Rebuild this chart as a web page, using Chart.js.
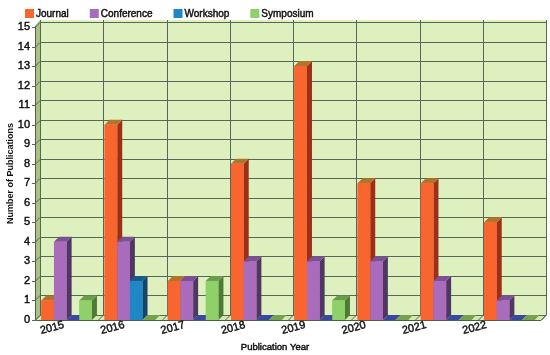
<!DOCTYPE html>
<html>
<head>
<meta charset="utf-8">
<script src="https://cdn.jsdelivr.net/npm/chart.js@4/dist/chart.umd.min.js"></script>
<style>
  html, body { margin: 0; padding: 0; background: #ffffff; }
  #wrap { width: 550px; height: 355px; }
</style>
</head>
<body>
<div id="wrap"><canvas id="c" width="550" height="355"></canvas></div>
<script>
// ---- data ----
const years = ['2015', '2016', '2017', '2018', '2019', '2020', '2021', '2022'];
const journal    = [1, 10, 2, 8, 13, 7, 7, 5];
const conference = [4, 4, 2, 3, 3, 3, 2, 1];
const workshop   = [0, 2, 0, 0, 0, 0, 0, 0];
const symposium  = [1, 0, 2, 0, 1, 0, 0, 0];
const seriesNames = ['Journal', 'Conference', 'Workshop', 'Symposium'];
const yTitle = 'Number of Publications';
const xTitle = 'Publication Year';

// ---- styles ----
const D = 5; // 3D depth
const FONT = '"Liberation Sans", Arial, sans-serif';
const TEXT = '#111111';
const STROKE = 0.45;
const faces = [
  { front: '#f8652e', top: '#b0742a', side: '#9c2f17', flat: '#b0742a' },
  { front: '#a96bbb', top: '#7d4f94', side: '#4f3763', flat: '#7d4f94' },
  { front: '#1f87c6', top: '#1b5a8c', side: '#164569', flat: '#3949a0' },
  { front: '#8fd06a', top: '#6c9c4a', side: '#4d7a34', flat: '#74a24f' }
];
const WALL = '#ddf0be';
const GRID = '#56665a';

function medText(ctx, s, x, y) {
  ctx.fillText(s, x, y);
  ctx.lineWidth = STROKE;
  ctx.strokeStyle = ctx.fillStyle;
  ctx.strokeText(s, x, y);
}

const scene3d = {
  id: 'scene3d',
  beforeDatasetsDraw(chart) {
    const { ctx, chartArea: a, scales: { x, y } } = chart;
    const n = chart.data.labels.length;
    const topB = a.top - D - 2;
    ctx.save();
    // back wall
    ctx.fillStyle = WALL;
    ctx.fillRect(a.left + D, topB, a.right - a.left, a.bottom - D - topB);
    // left wall
    ctx.fillStyle = '#a9c283';
    ctx.beginPath();
    ctx.moveTo(a.left, a.top - 1);
    ctx.lineTo(a.left + D, topB);
    ctx.lineTo(a.left + D, a.bottom - D);
    ctx.lineTo(a.left, a.bottom);
    ctx.closePath();
    ctx.fill();
    // floor
    ctx.fillStyle = '#d3e9ad';
    ctx.beginPath();
    ctx.moveTo(a.left, a.bottom);
    ctx.lineTo(a.left + D, a.bottom - D);
    ctx.lineTo(a.right + D, a.bottom - D);
    ctx.lineTo(a.right, a.bottom);
    ctx.closePath();
    ctx.fill();

    ctx.strokeStyle = GRID;
    ctx.lineWidth = 1;
    // horizontal grid
    for (let v = 0; v <= 15; v++) {
      const yy = Math.round(y.getPixelForValue(v)) + 0.5;
      ctx.beginPath();
      ctx.moveTo(a.left - 3, yy);
      ctx.lineTo(a.left, yy);
      ctx.lineTo(a.left + D, yy - D);
      ctx.lineTo(a.right + D, yy - D);
      ctx.stroke();
    }
    // vertical grid at category boundaries
    for (let i = 0; i <= n; i++) {
      const xb = Math.round(x.getPixelForValue(i - 0.5)) + 0.5;
      ctx.beginPath();
      ctx.moveTo(xb + D, topB);
      ctx.lineTo(xb + D, a.bottom - D);
      ctx.lineTo(xb, a.bottom);
      ctx.stroke();
    }
    // left wall front edge and floor front edge
    ctx.strokeStyle = '#4d6040';
    ctx.beginPath();
    ctx.moveTo(a.left + 0.5, a.top - 1);
    ctx.lineTo(a.left + 0.5, a.bottom + 0.5);
    ctx.lineTo(a.right, a.bottom + 0.5);
    ctx.lineTo(a.right + D, a.bottom - D);
    ctx.stroke();
    ctx.restore();
  },
  afterDatasetsDraw(chart) {
    const { ctx } = chart;
    const n = chart.data.labels.length;
    ctx.save();
    for (let j = 0; j < n; j++) {
      chart.data.datasets.forEach((ds, i) => {
        const meta = chart.getDatasetMeta(i);
        const el = meta.data[j];
        if (!el) return;
        const f = faces[i];
        const x1 = el.x - el.width / 2, x2 = el.x + el.width / 2;
        const top = el.y, base = el.base;
        if (Math.abs(base - top) < 0.5) {
          ctx.fillStyle = f.flat;
          ctx.beginPath();
          ctx.moveTo(x1, base);
          ctx.lineTo(x1 + D, base - D);
          ctx.lineTo(x2 + D, base - D);
          ctx.lineTo(x2, base);
          ctx.closePath();
          ctx.fill();
          return;
        }
        // side
        ctx.fillStyle = f.side;
        ctx.beginPath();
        ctx.moveTo(x2, top);
        ctx.lineTo(x2 + D, top - D);
        ctx.lineTo(x2 + D, base - D);
        ctx.lineTo(x2, base);
        ctx.closePath();
        ctx.fill();
        // top
        ctx.fillStyle = f.top;
        ctx.beginPath();
        ctx.moveTo(x1, top);
        ctx.lineTo(x1 + D, top - D);
        ctx.lineTo(x2 + D, top - D);
        ctx.lineTo(x2, top);
        ctx.closePath();
        ctx.fill();
        // front
        ctx.fillStyle = f.front;
        ctx.fillRect(x1, top, x2 - x1, base - top);
      });
    }
    ctx.restore();
  },
  afterDraw(chart) {
    const { ctx, chartArea: a, scales: { x } } = chart;
    ctx.save();
    // x tick labels, rotated
    ctx.fillStyle = TEXT;
    ctx.font = '11px ' + FONT;
    ctx.textAlign = 'center';
    ctx.textBaseline = 'middle';
    chart.data.labels.forEach((lab, i) => {
      const px = x.getPixelForTick(i);
      const lx = a.left + (px - a.left) * 0.954 - 13;
      ctx.save();
      ctx.translate(lx, a.bottom + 8);
      ctx.rotate(-15 * Math.PI / 180);
      medText(ctx, lab, 0, 0);
      ctx.restore();
    });
    // x title
    ctx.font = '9.5px ' + FONT;
    medText(ctx, xTitle, chart.width / 2, 347);
    // legend
    ctx.font = '10px ' + FONT;
    ctx.textAlign = 'left';
    let cx = 25;
    chart.data.datasets.forEach((ds, i) => {
      ctx.fillStyle = faces[i].front;
      ctx.fillRect(cx, 9, 9, 9);
      ctx.fillStyle = TEXT;
      medText(ctx, ds.label, cx + 11, 14);
      cx += 11 + ctx.measureText(ds.label).width + 21;
    });
    ctx.restore();
  }
};

const seriesValues = [journal, conference, workshop, symposium];
new Chart(document.getElementById('c'), {
  type: 'bar',
  data: {
    labels: years,
    datasets: seriesNames.map((name, i) => ({
      label: name,
      data: seriesValues[i],
      backgroundColor: faces[i].front,
      borderWidth: 0,
      categoryPercentage: 0.8,
      barPercentage: 1.0
    }))
  },
  options: {
    responsive: false,
    animation: false,
    layout: { padding: { top: 27, left: 5, right: 9, bottom: 0 } },
    plugins: {
      legend: { display: false },
      tooltip: { enabled: false },
      title: { display: false }
    },
    scales: {
      x: {
        grid: { display: false },
        border: { display: false },
        ticks: { display: false },
        afterFit(s) { s.height = 35; }
      },
      y: {
        min: 0, max: 15,
        grid: { display: false, drawTicks: false, tickLength: 0 },
        border: { display: false },
        ticks: {
          stepSize: 1, color: TEXT, font: { family: FONT, size: 11 }, padding: 5,
          textStrokeColor: TEXT, textStrokeWidth: STROKE
        },
        title: { display: true, text: yTitle, color: TEXT, font: { family: FONT, size: 9, weight: 'bold' }, padding: 0 },
        afterFit(s) { s.width = 30; }
      }
    }
  },
  plugins: [scene3d]
});
</script>
</body>
</html>
